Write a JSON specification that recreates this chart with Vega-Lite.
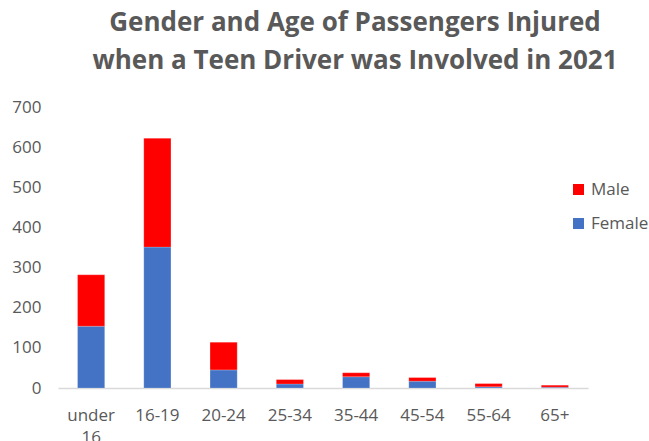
{
  "$schema": "https://vega.github.io/schema/vega-lite/v6.json",
  "width": 530,
  "height": 281,
  "autosize": "none",
  "padding": {"left": 58, "top": 107, "right": 61, "bottom": 53},
  "background": "white",
  "title": {
    "text": ["Gender and Age of Passengers Injured", "when a Teen Driver was Involved in 2021"],
    "font": "Open Sans",
    "fontSize": 26,
    "fontWeight": "bold",
    "color": "#595959",
    "anchor": "middle",
    "dx": 32,
    "lineHeight": 38,
    "offset": 24
  },
  "data": {
    "values": [
      {"age": "under 16", "gender": "Female", "count": 154},
      {"age": "under 16", "gender": "Male", "count": 128},
      {"age": "16-19", "gender": "Female", "count": 351},
      {"age": "16-19", "gender": "Male", "count": 271},
      {"age": "20-24", "gender": "Female", "count": 45},
      {"age": "20-24", "gender": "Male", "count": 69},
      {"age": "25-34", "gender": "Female", "count": 10},
      {"age": "25-34", "gender": "Male", "count": 11},
      {"age": "35-44", "gender": "Female", "count": 28},
      {"age": "35-44", "gender": "Male", "count": 10},
      {"age": "45-54", "gender": "Female", "count": 17},
      {"age": "45-54", "gender": "Male", "count": 9},
      {"age": "55-64", "gender": "Female", "count": 3},
      {"age": "55-64", "gender": "Male", "count": 8},
      {"age": "65+", "gender": "Female", "count": 2},
      {"age": "65+", "gender": "Male", "count": 5}
    ]
  },
  "mark": {"type": "bar", "stroke": "white", "strokeOpacity": 0.4, "strokeWidth": 0.5},
  "encoding": {
    "x": {
      "field": "age",
      "type": "nominal",
      "sort": null,
      "scale": {"paddingInner": 0.59, "paddingOuter": 0.295},
      "axis": {
        "title": null,
        "labelAngle": 0,
        "labelFont": "Open Sans",
        "labelFontSize": 17,
        "labelColor": "#595959",
        "labelExpr": "split(datum.label, ' ')",
        "labelLineHeight": 22,
        "labelPadding": 19,
        "ticks": false,
        "domainColor": "#D9D9D9",
        "domainWidth": 1.3
      }
    },
    "y": {
      "field": "count",
      "type": "quantitative",
      "stack": "zero",
      "scale": {"domain": [0, 700]},
      "axis": {
        "title": null,
        "values": [0, 100, 200, 300, 400, 500, 600, 700],
        "grid": false,
        "domain": false,
        "ticks": false,
        "labelFont": "Open Sans",
        "labelFontSize": 17,
        "labelColor": "#595959",
        "labelPadding": 17
      }
    },
    "color": {
      "field": "gender",
      "type": "nominal",
      "scale": {"domain": ["Male", "Female"], "range": ["#FF0000", "#4472C4"]},
      "legend": {
        "title": null,
        "orient": "none",
        "legendX": 512,
        "legendY": 74,
        "symbolType": "square",
        "symbolSize": 121,
        "symbolStrokeWidth": 0,
        "labelFont": "Open Sans",
        "labelFontSize": 17,
        "labelColor": "#595959",
        "labelOffset": 4,
        "rowPadding": 16
      }
    },
    "order": {"field": "gender", "sort": "ascending"}
  },
  "config": {"view": {"stroke": null}}
}
